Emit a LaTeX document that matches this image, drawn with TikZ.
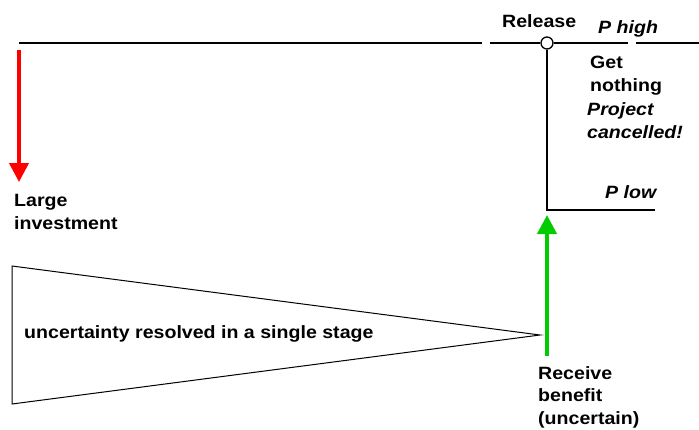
\documentclass[tikz,border=0pt]{standalone}
\usepackage{fontspec}
\setmainfont{Liberation Sans}[FakeStretch=1.1]
\usetikzlibrary{arrows.meta}
\tikzset{
  lbl/.style={anchor=base west, inner sep=0pt, align=left, font=\bfseries\fontsize{17.8}{22.5}\selectfont},
  ilbl/.style={lbl, font=\bfseries\itshape\fontsize{17.8}{22.5}\selectfont},
  tl/.style={line width=2pt, black},
  bigarrow/.style={line width=4pt, -{Triangle[width=19pt,length=19pt]}},
}
\begin{document}
\begin{tikzpicture}[x=1pt,y=-1pt]
\useasboundingbox (0,0) rectangle (699,429);
% coordinates
\coordinate (a1) at (19,43);
\coordinate (a2) at (482,43);
\coordinate (b1) at (490,43);
\coordinate (b2) at (628,43);
\coordinate (c1) at (636,43);
\coordinate (c2) at (699,43);
\coordinate (d) at (547,210);
\coordinate (d2) at (655,210);
\coordinate (r1) at (19,50);
\coordinate (r2) at (19,182);
\coordinate (g1) at (547,356);
\coordinate (g2) at (547,215);
\coordinate (t1) at (12,266);
\coordinate (t2) at (540,335);
\coordinate (t3) at (12,404);
% lines
\draw[tl] (a1) -- (a2);
\node[circle, draw, line width=1.3pt, fill=white, minimum size=12pt, inner sep=0pt] (rel) at (547,43) {};
\draw[tl] (b1) -- (rel.west);
\draw[tl] (rel.east) -- (b2);
\draw[tl] (c1) -- (c2);
\draw[tl] (rel.south) -- (d) -- (d2);
\draw[line width=1pt] (t1) -- (t2) -- (t3) -- cycle;
\draw[bigarrow, red] (r1) -- (r2);
\draw[bigarrow, green!80!black] (g1) -- (g2);
% labels (multi-line nodes: base = last line)
\node[lbl] (lrel) at (502,27) {Release};
\node[ilbl] (lph) at (598,33) {P high};
\node[lbl] (lget) at (590,91) {Get\\nothing};
\node[ilbl] (lproj) at (587,138) {Project\\cancelled!};
\node[ilbl] (lpl) at (605,198) {P low};
\node[lbl] (llarge) at (14,229) {Large\\investment};
\node[lbl] (lrec) at (538,424) {Receive\\benefit\\(uncertain)};
\node[lbl] (lunc) at (24,338) {uncertainty resolved in a single stage};
\end{tikzpicture}
\end{document}
